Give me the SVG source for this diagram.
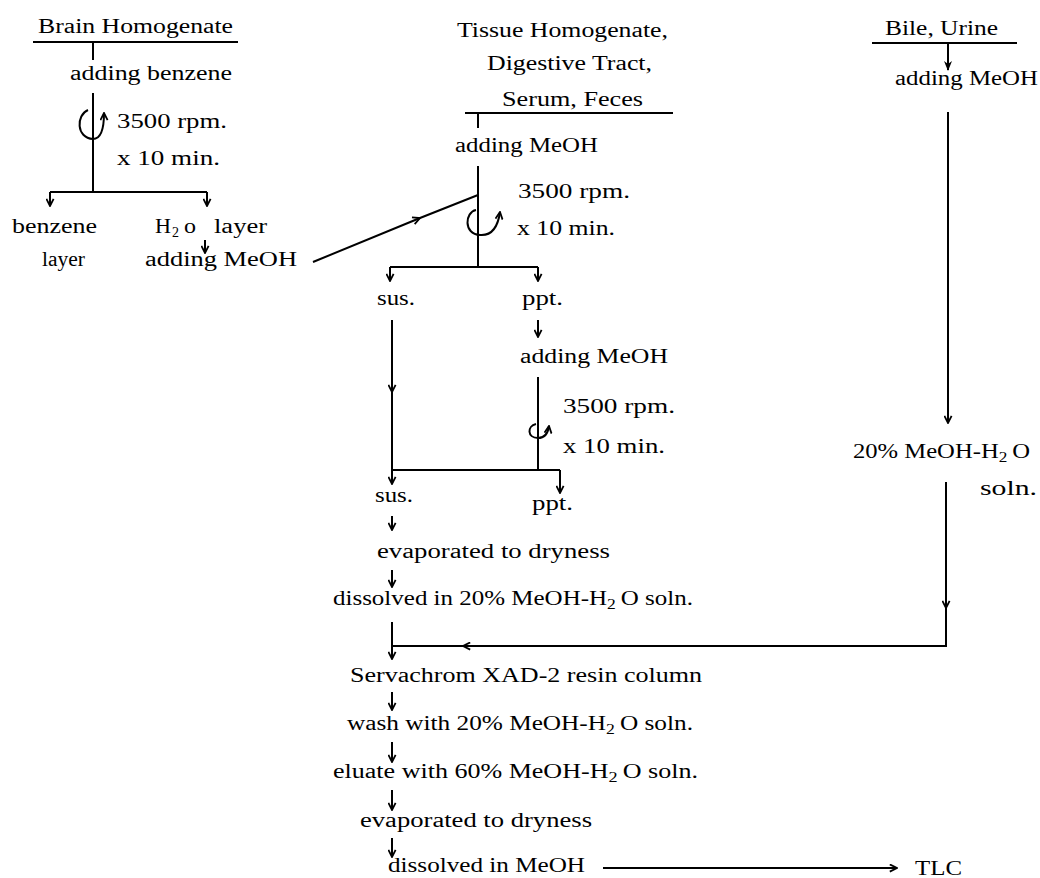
<svg xmlns="http://www.w3.org/2000/svg" width="1040" height="878" viewBox="0 0 1040 878">
<style>
text{font-family:"Liberation Serif","Times New Roman",serif;font-size:20px;fill:#000}
.sub{font-size:14px}
.ln{stroke:#000;stroke-width:2;fill:none}
.ar{marker-end:url(#ah)}
.mid{marker-mid:url(#ah)}
</style>
<defs>
<marker id="ah" viewBox="0 0 10 10" refX="9" refY="5" markerWidth="9" markerHeight="9" markerUnits="userSpaceOnUse" orient="auto">
<path d="M1,1 L9,5 L1,9" fill="none" stroke="#000" stroke-width="2"/>
</marker>
<marker id="fh" viewBox="0 0 10 10" refX="9" refY="5" markerWidth="10" markerHeight="10" markerUnits="userSpaceOnUse" orient="auto">
<path d="M0,1 L10,5 L0,9 L3,5 z" fill="#000"/>
</marker>
</defs>
<rect width="1040" height="878" fill="#fff"/>
<g id="connectors">
<!-- underlines -->
<path class="ln" d="M33 42 H238"/>
<path class="ln" d="M465 113 H673"/>
<path class="ln" d="M872 43 H1017"/>
<!-- brain column -->
<path class="ln" d="M93 42 V60"/>
<path class="ln" d="M93 93 V192"/>
<path class="ln" d="M88 110 C76 115 76 138 93 139 C101 139 104 128 104 113" marker-end="url(#ah)"/>
<path class="ln" d="M50 192 H207"/>
<path class="ln ar" d="M50 192 V206"/>
<path class="ln ar" d="M207 192 V206"/>
<path class="ln ar" d="M205 240 V253"/>
<path class="ln mid" d="M313 262 L420 218 L478 195"/>
<!-- tissue column -->
<path class="ln" d="M478 113 V128"/>
<path class="ln" d="M478 166 V267"/>
<path class="ln" d="M476 210 C465 212 463 234 480 235 C492 236 498 226 500 212" marker-end="url(#ah)"/>
<path class="ln" d="M390 267 H538"/>
<path class="ln ar" d="M390 267 V281"/>
<path class="ln ar" d="M538 267 V281"/>
<path class="ln mid" d="M392 320 V392 V470"/>
<path class="ln ar" d="M538 320 V337"/>
<path class="ln" d="M538 377 V470"/>
<path class="ln" d="M536 424 C527 426 527 438 538 438 C545 438 548 433 549 426" marker-end="url(#ah)"/>
<path class="ln" d="M392 470 H560"/>
<path class="ln ar" d="M392 470 V484"/>
<path class="ln ar" d="M560 470 V493"/>
<path class="ln ar" d="M392 516 V530"/>
<path class="ln ar" d="M392 570 V587"/>
<!-- merge -->
<path class="ln" d="M392 622 V646"/>
<path class="ln ar" d="M392 646 V659"/>
<path class="ln mid" d="M946 482 V608 V647"/>
<path class="ln mid" d="M947 646 H463 H392"/>
<!-- bile column -->
<path class="ln" d="M948 43 V70" marker-end="url(#fh)"/>
<path class="ln ar" d="M948 112 V423"/>
<!-- lower chain -->
<path class="ln ar" d="M392 692 V710"/>
<path class="ln ar" d="M392 742 V762"/>
<path class="ln ar" d="M392 790 V810"/>
<path class="ln ar" d="M392 838 V857"/>
<path class="ln ar" d="M603 868 H897"/>
</g>
<g id="n-brain"><text x="38" y="33" textLength="195" lengthAdjust="spacingAndGlyphs">Brain Homogenate</text></g>
<g id="n-add-benzene"><text x="70" y="80" textLength="162" lengthAdjust="spacingAndGlyphs">adding benzene</text></g>
<g id="n-spin1"><text x="117" y="128" textLength="110" lengthAdjust="spacingAndGlyphs">3500 rpm.</text><text x="117" y="165" textLength="103" lengthAdjust="spacingAndGlyphs">x 10 min.</text></g>
<g id="n-benzene-layer"><text x="12" y="233" textLength="85" lengthAdjust="spacingAndGlyphs">benzene</text><text x="42" y="266" textLength="43" lengthAdjust="spacingAndGlyphs">layer</text></g>
<g id="n-h2o-layer"><text x="155" y="233" textLength="16" lengthAdjust="spacingAndGlyphs">H</text><text class="sub" x="172" y="237">2</text><text x="184" y="233" textLength="12" lengthAdjust="spacingAndGlyphs">o</text><text x="214" y="233" textLength="53" lengthAdjust="spacingAndGlyphs">layer</text></g>
<g id="n-add-meoh1"><text x="145" y="266" textLength="152" lengthAdjust="spacingAndGlyphs">adding MeOH</text></g>
<g id="n-tissue"><text x="457" y="37" textLength="211" lengthAdjust="spacingAndGlyphs">Tissue Homogenate,</text><text x="487" y="70" textLength="165" lengthAdjust="spacingAndGlyphs">Digestive Tract,</text><text x="502" y="106" textLength="141" lengthAdjust="spacingAndGlyphs">Serum, Feces</text></g>
<g id="n-add-meoh2"><text x="455" y="152" textLength="143" lengthAdjust="spacingAndGlyphs">adding MeOH</text></g>
<g id="n-spin2"><text x="518" y="198" textLength="112" lengthAdjust="spacingAndGlyphs">3500 rpm.</text><text x="517" y="235" textLength="98" lengthAdjust="spacingAndGlyphs">x 10 min.</text></g>
<g id="n-sus1"><text x="377" y="305" textLength="38" lengthAdjust="spacingAndGlyphs">sus.</text></g>
<g id="n-ppt1"><text x="522" y="305" textLength="41" lengthAdjust="spacingAndGlyphs">ppt.</text></g>
<g id="n-add-meoh3"><text x="520" y="363" textLength="148" lengthAdjust="spacingAndGlyphs">adding MeOH</text></g>
<g id="n-spin3"><text x="563" y="413" textLength="112" lengthAdjust="spacingAndGlyphs">3500 rpm.</text><text x="563" y="453" textLength="102" lengthAdjust="spacingAndGlyphs">x 10 min.</text></g>
<g id="n-sus2"><text x="375" y="502" textLength="38" lengthAdjust="spacingAndGlyphs">sus.</text></g>
<g id="n-ppt2"><text x="532" y="510" textLength="41" lengthAdjust="spacingAndGlyphs">ppt.</text></g>
<g id="n-evap1"><text x="377" y="558" textLength="233" lengthAdjust="spacingAndGlyphs">evaporated to dryness</text></g>
<g id="n-dissolved1"><text x="333" y="605" textLength="360" lengthAdjust="spacingAndGlyphs">dissolved in 20% MeOH-H<tspan class="sub" dy="4">2</tspan><tspan dy="-4" dx="4">O soln.</tspan></text></g>
<g id="n-column"><text x="350" y="682" textLength="352" lengthAdjust="spacingAndGlyphs">Servachrom XAD-2 resin column</text></g>
<g id="n-wash"><text x="347" y="730" textLength="346" lengthAdjust="spacingAndGlyphs">wash with 20% MeOH-H<tspan class="sub" dy="4">2</tspan><tspan dy="-4" dx="4">O soln.</tspan></text></g>
<g id="n-eluate"><text x="333" y="778" textLength="365" lengthAdjust="spacingAndGlyphs">eluate with 60% MeOH-H<tspan class="sub" dy="4">2</tspan><tspan dy="-4" dx="4">O soln.</tspan></text></g>
<g id="n-evap2"><text x="360" y="827" textLength="232" lengthAdjust="spacingAndGlyphs">evaporated to dryness</text></g>
<g id="n-dissolved2"><text x="388" y="872" textLength="197" lengthAdjust="spacingAndGlyphs">dissolved in MeOH</text></g>
<g id="n-tlc"><text x="915" y="875" textLength="47" lengthAdjust="spacingAndGlyphs">TLC</text></g>
<g id="n-bile"><text x="885" y="35" textLength="113" lengthAdjust="spacingAndGlyphs">Bile, Urine</text></g>
<g id="n-add-meoh4"><text x="895" y="85" textLength="143" lengthAdjust="spacingAndGlyphs">adding MeOH</text></g>
<g id="n-meoh-soln"><text x="853" y="458" textLength="177" lengthAdjust="spacingAndGlyphs">20% MeOH-H<tspan class="sub" dy="4">2</tspan><tspan dy="-4" dx="4">O</tspan></text><text x="980" y="495" textLength="57" lengthAdjust="spacingAndGlyphs">soln.</text></g>
</svg>
